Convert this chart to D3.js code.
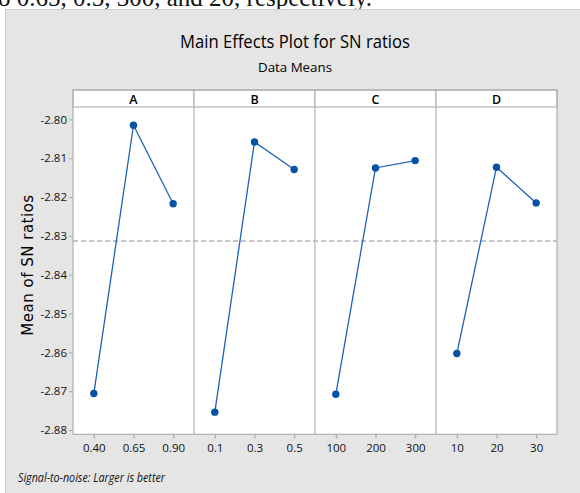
<!DOCTYPE html>
<html>
<head>
<meta charset="utf-8">
<script src="https://cdn.jsdelivr.net/npm/d3@7/dist/d3.min.js"></script>
<style>
  html, body { margin: 0; padding: 0; background: #ffffff; }
  svg { display: block; }
</style>
</head>
<body>
<svg id="chart" width="580" height="493"></svg>
<script>
// ---- Data ----
const factors = ["A", "B", "C", "D"];
const levelsA = ["0.40", "0.65", "0.90"];
const levelsB = ["0.1", "0.3", "0.5"];
const levelsC = ["100", "200", "300"];
const levelsD = ["10", "20", "30"];
const valuesA = [-2.8706, -2.8015, -2.8217];
const valuesB = [-2.8754, -2.8058, -2.8129];
const valuesC = [-2.8708, -2.8125, -2.8106];
const valuesD = [-2.8603, -2.8123, -2.8215];
const yTicks = [-2.80, -2.81, -2.82, -2.83, -2.84, -2.85, -2.86, -2.87, -2.88];
const titleText = "Main Effects Plot for SN ratios";
const subtitleText = "Data Means";
const yLabelText = "Mean of SN ratios";
const footerText = "Signal-to-noise: Larger is better";
const topText = "o 0.65, 0.5, 300, and 20, respectively.";

const panels = [
  { name: factors[0], levels: levelsA, values: valuesA },
  { name: factors[1], levels: levelsB, values: valuesB },
  { name: factors[2], levels: levelsC, values: valuesC },
  { name: factors[3], levels: levelsD, values: valuesD }
];
const allValues = [].concat(valuesA, valuesB, valuesC, valuesD);
const grandMean = d3.mean(allValues);

// ---- Layout ----
const svg = d3.select("#chart");
const plotLeft = 73, plotRight = 557, frameTop = 90, stripBottom = 107, plotBottom = 434.3;
const panelW = (plotRight - plotLeft) / panels.length;
const sansFont = "'Open Sans', 'Noto Sans', sans-serif";

// top paper text (partly cut off by the page edge, as in the reference)
svg.append("text")
  .attr("x", -2).attr("y", 6)
  .attr("font-family", "'Liberation Serif', 'DejaVu Serif', serif")
  .attr("font-size", 25)
  .attr("fill", "#111")
  .text(topText);

// gray background panel
svg.append("rect")
  .attr("x", 5.5).attr("y", 9.5)
  .attr("width", 590).attr("height", 500)
  .attr("fill", "#e5e5e5")
  .attr("stroke", "#cdcdcd").attr("stroke-width", 1);

// Title
svg.append("text")
  .attr("x", 295).attr("y", 48)
  .attr("text-anchor", "middle")
  .attr("font-family", sansFont)
  .attr("font-size", 18.5)
  .attr("font-weight", 500)
  .attr("fill", "#000")
  .attr("textLength", 230).attr("lengthAdjust", "spacingAndGlyphs")
  .text(titleText);
svg.append("text")
  .attr("x", 295).attr("y", 72)
  .attr("text-anchor", "middle")
  .attr("font-family", sansFont)
  .attr("font-size", 13.5)
  .attr("font-weight", 500)
  .attr("fill", "#000")
  .attr("textLength", 74).attr("lengthAdjust", "spacingAndGlyphs")
  .text(subtitleText);

// Scales
const y = d3.scaleLinear()
  .domain([-2.8811, -2.7968])
  .range([plotBottom, stripBottom]);

// plot background (white)
svg.append("rect")
  .attr("x", plotLeft).attr("y", frameTop)
  .attr("width", plotRight - plotLeft).attr("height", plotBottom - frameTop)
  .attr("fill", "#ffffff");

// Y axis
const yAxisG = svg.append("g")
  .attr("transform", `translate(${plotLeft},0)`)
  .call(d3.axisLeft(y).tickValues(yTicks).tickFormat(d3.format(".2f")).tickSize(4).tickPadding(2));
yAxisG.select(".domain").remove();
yAxisG.selectAll(".tick line").attr("stroke", "#a8a8a8");
yAxisG.selectAll(".tick text")
  .attr("font-family", sansFont).attr("font-size", 11.5).attr("fill", "#111")
  .text(d => d3.format(".2f")(d).replace("−", "-"));

// Y label
svg.append("text")
  .attr("transform", `translate(33,265) rotate(-90)`)
  .attr("text-anchor", "middle")
  .attr("font-family", "'DejaVu Sans', sans-serif")
  .attr("font-size", 15)
  .attr("letter-spacing", 0.5)
  .attr("fill", "#000")
  .text(yLabelText);

// Mean dashed line
svg.append("line")
  .attr("x1", plotLeft).attr("x2", plotRight)
  .attr("y1", y(grandMean)).attr("y2", y(grandMean))
  .attr("stroke", "#8a8a8a").attr("stroke-width", 1)
  .attr("stroke-dasharray", "5,3");

const line = d3.line();

panels.forEach((p, i) => {
  const x0 = plotLeft + i * panelW;
  const x = d3.scalePoint().domain(p.levels).range([x0, x0 + panelW]).padding(0.525);
  const g = svg.append("g");

  // strip header
  g.append("rect")
    .attr("x", x0).attr("y", frameTop)
    .attr("width", panelW).attr("height", stripBottom - frameTop)
    .attr("fill", "#ffffff").attr("stroke", "#b4b4b4").attr("stroke-width", 1.2);
  g.append("text")
    .attr("x", x0 + panelW / 2).attr("y", 103.5)
    .attr("text-anchor", "middle")
    .attr("font-family", sansFont).attr("font-size", 12.5).attr("font-weight", 600)
    .attr("fill", "#000")
    .text(p.name);

  // panel divider
  if (i > 0) {
    g.append("line")
      .attr("x1", x0).attr("x2", x0)
      .attr("y1", stripBottom).attr("y2", plotBottom)
      .attr("stroke", "#b4b4b4").attr("stroke-width", 1.2);
  }

  // x axis
  const xa = g.append("g")
    .attr("transform", `translate(0,${plotBottom})`)
    .call(d3.axisBottom(x).tickSize(4).tickPadding(6));
  xa.select(".domain").remove();
  xa.selectAll(".tick line").attr("stroke", "#a8a8a8").attr("stroke-width", 1.2);
  xa.selectAll(".tick text")
    .attr("font-family", sansFont).attr("font-size", 11.5).attr("fill", "#111");

  // line + points
  const pts = p.levels.map((l, k) => [x(l), y(p.values[k])]);
  g.append("path")
    .attr("d", line(pts))
    .attr("fill", "none")
    .attr("stroke", "#1e62b8").attr("stroke-width", 1.3);
  g.selectAll("circle").data(pts).enter().append("circle")
    .attr("cx", d => d[0]).attr("cy", d => d[1])
    .attr("r", 3.7)
    .attr("fill", "#0752a6");
});

// frame
svg.append("rect")
  .attr("x", plotLeft).attr("y", frameTop)
  .attr("width", plotRight - plotLeft).attr("height", plotBottom - frameTop)
  .attr("fill", "none").attr("stroke", "#b0b0b0").attr("stroke-width", 1.2);

// footer
svg.append("text")
  .attr("x", 18).attr("y", 482)
  .attr("font-family", sansFont).attr("font-size", 12).attr("font-style", "italic")
  .attr("fill", "#111")
  .attr("textLength", 147).attr("lengthAdjust", "spacingAndGlyphs")
  .text(footerText);
</script>
</body>
</html>
